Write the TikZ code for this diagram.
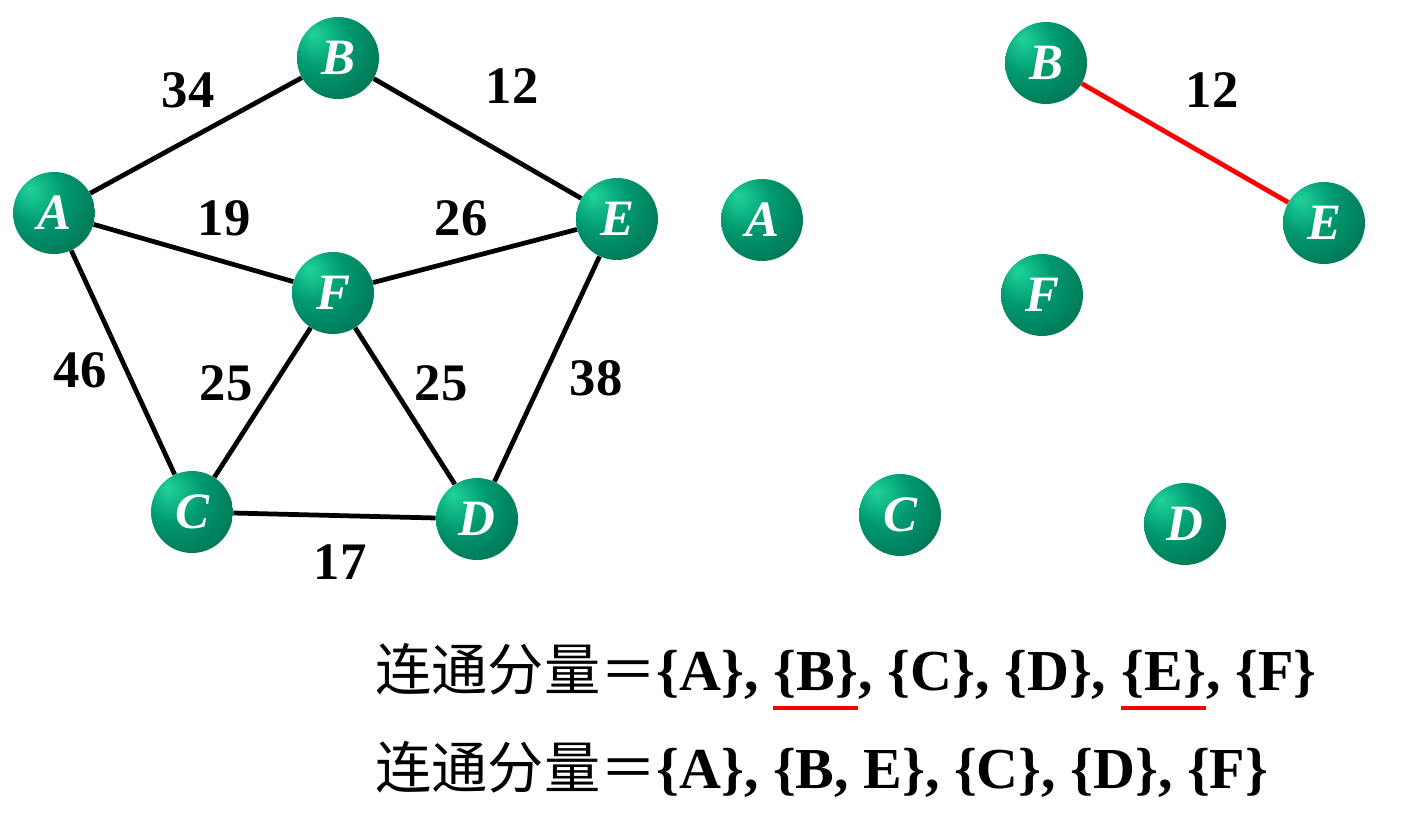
\documentclass[tikz,border=0pt]{standalone}
\usepackage{fontspec}
\setmainfont{Liberation Serif}
\newfontfamily\cjk{Noto Sans CJK SC}
\definecolor{gLight}{HTML}{20D39C}
\definecolor{gMid}{HTML}{00996F}
\definecolor{gDark}{HTML}{00563D}
\definecolor{ulred}{HTML}{FF0000}
\pgfdeclareradialshading{greenball}{\pgfpoint{-15bp}{15bp}}{color(0bp)=(gLight); color(18bp)=(gMid); color(55bp)=(gDark); color(75bp)=(gDark)}
\newcommand{\cjkpart}{{\cjk\mdseries\fontsize{32}{32}\selectfont 连通分量＝}}
\begin{document}
\begin{tikzpicture}[x=0.02cm,y=-0.02cm,
  vtx/.style={circle, minimum size=1.64cm, inner sep=0pt, shading=greenball, text=white,
    font=\bfseries\itshape\fontsize{29}{29}\selectfont},
  edge/.style={line width=2.7pt, black},
  redge/.style={line width=2.7pt, ulred},
  wlab/.style={font=\bfseries\fontsize{30}{30}\selectfont, inner sep=0pt},
  txt/.style={font=\bfseries\fontsize{33}{33}\selectfont, inner sep=0pt, anchor=base west},
  uline/.style={line width=2.8pt, ulred}]
\useasboundingbox (0,0) rectangle (1406,835);
% left graph
\node[vtx] (B) at (338,58) {B};
\node[vtx] (A) at (54,213) {A};
\node[vtx] (E) at (617,219) {E};
\node[vtx] (F) at (333,293) {F};
\node[vtx] (C) at (192,512) {C};
\node[vtx] (D) at (477,519) {D};
\draw[edge] (A) -- (B);
\draw[edge] (B) -- (E);
\draw[edge] (A) -- (F);
\draw[edge] (F) -- (E);
\draw[edge] (A) -- (C);
\draw[edge] (F) -- (C);
\draw[edge] (F) -- (D);
\draw[edge] (E) -- (D);
\draw[edge] (C) -- (D);
\node[wlab] (w1) at (188,90) {34};
\node[wlab] (w2) at (512,86) {12};
\node[wlab] (w3) at (224,218) {19};
\node[wlab] (w4) at (461,218) {26};
\node[wlab] (w5) at (80,370) {46};
\node[wlab] (w6) at (226,383) {25};
\node[wlab] (w7) at (441,383) {25};
\node[wlab] (w8) at (596,378) {38};
\node[wlab] (w9) at (340,562) {17};
% right graph
\node[vtx] (B2) at (1046,63) {B};
\node[vtx] (A2) at (762,220) {A};
\node[vtx] (E2) at (1324,223) {E};
\node[vtx] (F2) at (1042,295) {F};
\node[vtx] (C2) at (900,515) {C};
\node[vtx] (D2) at (1185,524) {D};
\draw[redge] (B2) -- (E2);
\node[wlab] (w10) at (1212,90) {12};
% text line 1
\node[txt] (t1a) at (375,690) {\cjkpart\{A\},\ \null};
\node[txt] (t1b) at (t1a.base east) {\{B\}};
\node[txt] (t1c) at (t1b.base east) {, \{C\}, \{D\},\ \null};
\node[txt] (t1d) at (t1c.base east) {\{E\}};
\node[txt] (t1e) at (t1d.base east) {, \{F\}};
\draw[uline] ([yshift=-0.36cm]t1b.base west) -- ([yshift=-0.36cm]t1b.base east);
\draw[uline] ([yshift=-0.36cm]t1d.base west) -- ([yshift=-0.36cm]t1d.base east);
% text line 2
\node[txt] (t2) at (375,788) {\cjkpart\{A\}, \{B, E\}, \{C\}, \{D\}, \{F\}};
\end{tikzpicture}
\end{document}
